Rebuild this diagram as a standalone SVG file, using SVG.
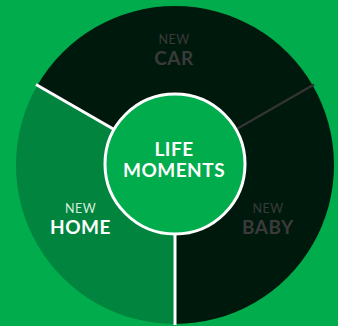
<svg xmlns="http://www.w3.org/2000/svg" width="338" height="326" viewBox="0 0 338 326">
<style>
.new{font-family:Lato,"Liberation Sans",sans-serif;font-size:12.5px;font-weight:400;text-anchor:middle;letter-spacing:0.5px}
.big{font-family:Lato,"Liberation Sans",sans-serif;font-size:19px;font-weight:700;text-anchor:middle;letter-spacing:0.5px}
.dim{fill:#3a3a3a}
</style>
<rect width="338" height="326" fill="#00ac4b"/>
<g id="car">
<path d="M175,165 L37.3,85.5 A159,159 0 0 1 312.7,85.5 Z" fill="#00190d"/>
<text class="new dim" x="174" y="44">NEW</text>
<text class="big dim" x="174" y="65">CAR</text>
</g>
<g id="baby">
<path d="M175,165 L312.7,85.5 A159,159 0 0 1 175,324 Z" fill="#00190d"/>
<text class="new dim" x="268" y="213">NEW</text>
<text class="big dim" x="268" y="234">BABY</text>
</g>
<g id="home">
<path d="M175,165 L175,324 A159,159 0 0 1 37.3,85.5 Z" fill="#00843e"/>
<text class="new" x="80.5" y="213" fill="#d8eedd">NEW</text>
<text class="big" x="80.5" y="234" fill="#ffffff">HOME</text>
</g>
<g id="connectors">
<line x1="36" y1="84.5" x2="115" y2="130" stroke="#ffffff" stroke-width="3"/>
<line x1="314" y1="84.5" x2="235" y2="130" stroke="#333333" stroke-width="2.5"/>
<line x1="175" y1="232" x2="175" y2="325" stroke="#ffffff" stroke-width="3"/>
</g>
<g id="center">
<circle cx="175" cy="164" r="70" fill="#00ac4b" stroke="#ffffff" stroke-width="3"/>
<text class="big" x="174" y="156" fill="#ffffff">LIFE</text>
<text class="big" x="174" y="177" fill="#ffffff">MOMENTS</text>
</g>
</svg>
